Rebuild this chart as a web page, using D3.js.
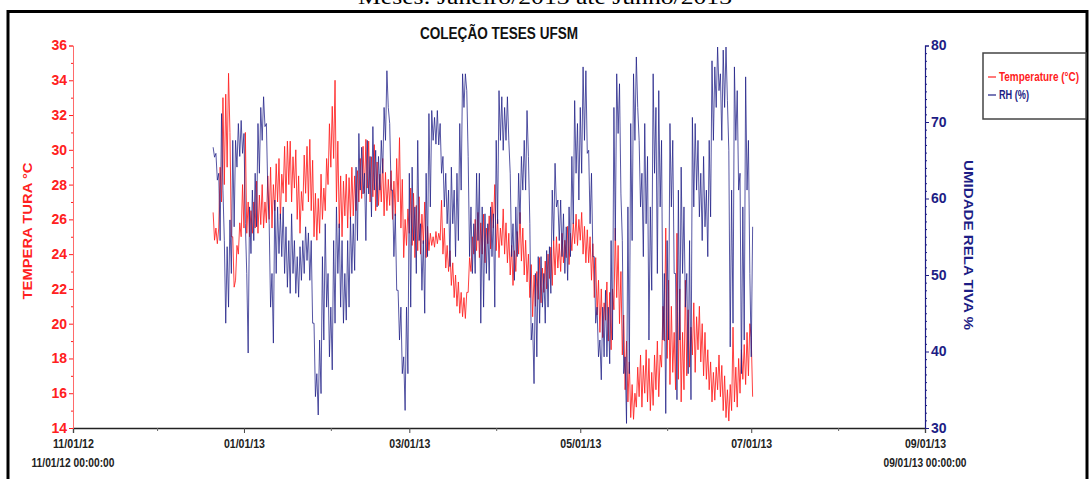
<!DOCTYPE html>
<html>
<head>
<meta charset="utf-8">
<script src="https://cdn.jsdelivr.net/npm/d3@7"></script>
<style>
  body { margin: 0; background: #fff; }
  svg { display: block; }
  .narrow { font-family: "Liberation Sans Narrow", "Arial Narrow", "Liberation Sans", Arial, sans-serif; font-weight: bold; }
</style>
</head>
<body>
<script>
// series: one sample every 12 hours starting at seriesStart
const seriesStart = Date.UTC(2012, 11, 21, 0);
const stepHours = 12;

const tempValues = [
  26.4, 24.8, 25.5, 24.6, 25.5, 29, 27, 33, 28, 33.2, 29, 34.4, 31, 25, 25, 22.1, 22.5, 24.5, 24, 25.8,
  25, 28, 25.5, 31, 25.2, 27, 25, 26.5, 25.2, 27, 25.5, 28.2, 25.2, 27.4, 25.7, 28, 25.5, 27, 25.8, 28.5,
  26, 29, 25.5, 28, 26.5, 29.2, 27, 29.5, 26, 28.6, 27.5, 30.2, 27, 30.5, 28, 30.5, 27, 29.6, 27.8, 30,
  26, 28.5, 25.2, 27.6, 26.5, 29.7, 27.5, 30.2, 27, 30.6, 26.5, 29.4, 25, 27.5, 24.8, 27.2, 25.2, 28.6, 26, 27.8,
  26.5, 29.5, 28, 31.5, 29, 32.5, 29.5, 34, 27, 30.5, 25.5, 28.5, 25, 28.2, 26.2, 28.6, 25.5, 28.4, 26, 29,
  26.2, 28.5, 26.5, 28.8, 27, 29.5, 27.2, 30.2, 27.5, 30.6, 27.8, 30.5, 27, 29.6, 27.3, 30.3, 26.5, 29.3, 26.8, 28.6,
  27, 29.5, 26.2, 28.7, 26.5, 28.3, 26.8, 28.8, 26, 28.2, 26.2, 29.5, 27, 30.7, 25.5, 28.3, 23.8, 26, 24.5, 26.6,
  25.2, 27.8, 24.5, 27.5, 23.8, 26.8, 24.2, 27.3, 24, 26.3, 24.6, 27, 23.8, 25.6, 24.2, 25.2, 24.5, 25, 24.4, 25.3,
  24.6, 25.2, 24.8, 27.1, 24, 25.5, 23.2, 24.5, 23, 24.2, 22.2, 23.5, 21.5, 22.8, 21, 22.4, 20.6, 21.8, 20.4, 21.5,
  20.3, 21.8, 21.8, 23.8, 23, 25, 24, 26, 24.2, 26.4, 23.8, 25.8, 24, 26.3, 23.5, 25.5, 24.6, 26.2, 24.3, 27,
  25.5, 28, 24.2, 26, 23.8, 25.5, 24.5, 26.6, 24, 25.8, 23.5, 25.2, 22.8, 24.5, 22.2, 24.2, 23, 25.3, 24, 26.4,
  23.6, 25.5, 22.8, 24.8, 22.4, 24, 21.5, 23.4, 20.4, 22.8, 21, 23, 21.4, 23.8, 21.2, 23.2, 21.8, 23.6, 22, 24,
  22.6, 24.4, 22.2, 24.8, 22.8, 25, 23.2, 24.6, 23, 25.2, 23.5, 24.8, 23.8, 25.6, 23.4, 25.2, 24.2, 25.8, 24.6, 26.3,
  24.5, 26, 24.8, 26.4, 24, 25.6, 23.5, 25.4, 23.5, 25, 22.5, 24.6, 21.5, 23.8, 20.5, 22.5, 19.5, 22, 19.2, 21.2,
  20.2, 22.4, 19, 21.8, 18.5, 22, 20.8, 25.5, 21.5, 24.5, 20, 23, 18.2, 20.5, 16.2, 19, 15.5, 17.8, 14.6, 16.5,
  14.5, 16, 15.2, 17.5, 15.8, 18.2, 15.2, 17.6, 16, 18.5, 15.5, 18, 15, 17.2, 15.3, 18.2, 16.2, 19, 15.8, 18.2,
  17.5, 21, 19, 25.5, 18, 22.5, 16.5, 21, 17.2, 19.5, 16.2, 25.2, 16.8, 22, 15.5, 19.5, 16.2, 22.5, 17, 20.8,
  17.5, 19.8, 18.2, 21.2, 17.2, 20.4, 18.5, 21, 17.8, 20, 17, 19.5, 16.8, 18.5, 16.2, 17.8, 15.5, 17.2, 15.6, 17.5,
  16.2, 18.2, 15.8, 17.6, 15, 17, 14.6, 16.2, 14.4, 16.5, 15, 19.8, 15.5, 17.5, 15.2, 18, 16, 18.5, 16.8, 18.8,
  16.5, 19.5, 17, 20, 19.2, 15.8
];

const rhValues = [
  66.7, 65.4, 65.9, 62.4, 63.3, 54.5, 71.1, 61.1, 54.5, 43.7, 53.7, 45.8, 57.2, 50.2, 67.6, 56.3, 67.6, 64.1, 69.8, 65.5,
  70.2, 65.9, 68.5, 56.7, 50.2, 39.8, 58.9, 52.8, 61.1, 54.5, 63.3, 56.3, 69.8, 63.3, 71.9, 67.6, 73.3, 69.4, 69.8, 61.1,
  56.7, 45.8, 50.2, 41.1, 59.8, 50.2, 58.9, 52.8, 58.0, 52.4, 58.9, 50.2, 56.3, 48.4, 54.5, 47.6, 58.0, 50.2, 54.5, 47.6,
  52.4, 47.1, 53.7, 49.3, 54.5, 50.2, 56.3, 51.9, 55.5, 49.3, 54.5, 43.7, 43.7, 34.1, 37.1, 31.7, 41.5, 34.5, 52.4, 41.5,
  56.7, 45.8, 50.2, 39.3, 45.8, 37.6, 54.5, 43.7, 58.9, 50.2, 56.7, 45.8, 54.5, 43.7, 50.2, 44.1, 54.5, 45.8, 57.6, 50.2,
  56.7, 50.6, 64.1, 54.5, 68.5, 61.1, 66.7, 60.6, 63.3, 54.5, 67.6, 60.6, 65.5, 57.6, 69.4, 61.1, 66.3, 58.9, 65.5, 61.1,
  67.6, 63.3, 71.9, 67.6, 76.7, 71.9, 69.8, 61.1, 61.1, 52.4, 58.0, 48.0, 48.0, 41.5, 45.8, 37.1, 39.3, 32.3, 45.8, 37.1,
  63.3, 45.8, 64.1, 54.5, 58.9, 50.2, 67.6, 54.5, 56.7, 48.0, 54.5, 45.0, 63.3, 52.4, 71.1, 58.9, 71.5, 67.6, 70.6, 67.1,
  71.5, 67.0, 69.8, 63.3, 65.5, 58.9, 63.3, 56.7, 61.1, 51.1, 64.1, 56.7, 61.1, 52.4, 63.3, 54.5, 69.8, 61.1, 76.3, 71.9,
  76.3, 74.1, 65.5, 52.4, 58.9, 50.2, 56.7, 50.2, 63.3, 54.5, 63.3, 43.7, 58.9, 45.8, 58.0, 50.2, 56.7, 49.3, 58.9, 52.4,
  58.0, 45.8, 67.6, 56.7, 74.1, 67.6, 73.3, 66.3, 71.9, 67.6, 73.3, 67.6, 63.3, 52.4, 56.7, 49.3, 58.9, 52.4, 63.3, 56.7,
  65.5, 61.1, 67.6, 61.1, 71.5, 65.5, 56.7, 41.5, 43.7, 35.8, 50.2, 39.3, 52.4, 43.7, 52.4, 45.8, 50.2, 43.7, 53.2, 45.8,
  53.7, 47.6, 61.1, 54.5, 64.6, 58.9, 59.8, 54.5, 59.8, 52.4, 58.0, 50.2, 56.3, 49.3, 58.9, 52.4, 65.5, 56.7, 72.8, 63.3,
  69.8, 59.8, 71.9, 63.3, 77.2, 67.6, 76.7, 65.9, 66.3, 56.7, 63.3, 52.4, 52.4, 43.7, 45.8, 39.3, 41.5, 36.3, 45.8, 39.3,
  48.0, 39.3, 45.8, 38.4, 54.5, 41.5, 71.9, 54.5, 76.3, 68.5, 75.0, 60.6, 54.5, 37.1, 39.3, 30.6, 58.9, 37.1, 69.8, 54.5,
  76.3, 67.6, 78.5, 71.9, 67.6, 58.9, 63.3, 52.4, 69.8, 56.7, 65.5, 41.5, 58.9, 48.0, 76.3, 63.3, 71.9, 50.2, 74.1, 58.9,
  67.6, 41.5, 50.2, 31.9, 54.5, 41.5, 69.8, 58.9, 67.6, 50.2, 50.2, 33.7, 61.1, 41.5, 64.1, 50.2, 58.9, 45.8, 50.2, 37.1,
  54.5, 33.7, 70.6, 58.9, 69.8, 61.1, 67.6, 57.6, 63.3, 54.5, 65.5, 56.3, 61.1, 52.4, 67.6, 57.6, 78.0, 67.6, 77.2, 71.9,
  79.8, 74.1, 76.3, 67.6, 79.4, 71.9, 79.8, 72.8, 66.3, 40.6, 61.1, 43.7, 77.2, 67.6, 74.1, 61.1, 63.3, 37.1, 58.9, 41.5,
  75.9, 61.1, 67.6, 50.2, 39.3, 56.3
];

const xDomain = [Date.UTC(2012, 10, 1), Date.UTC(2013, 8, 1)];
const tempTicks = d3.range(14, 37, 2);
const tempMinor = d3.range(15, 36, 2);
const rhTicks = d3.range(30, 81, 10);
const rhMinor = d3.range(31, 80, 1).filter(v => v % 10 !== 0);

const width = 1090, height = 479;
const plot = {left: 73, right: 925, top: 45.5, bottom: 428};

const red = '#ff2020';
const navy = '#1d1d85';

const svg = d3.select(document.body).append('svg')
  .attr('width', width)
  .attr('height', height);

svg.append('rect').attr('width', width).attr('height', height).attr('fill', '#fff');

// outer frame and top caption (caption is cut by the page edge, as in the source)
svg.append('rect')
  .attr('x', 8).attr('y', 11.5)
  .attr('width', 1079).attr('height', 500)
  .attr('fill', 'none').attr('stroke', '#000').attr('stroke-width', 3);

svg.append('text')
  .attr('x', 545).attr('y', 4)
  .attr('text-anchor', 'middle')
  .attr('font-family', '"Liberation Serif", "Times New Roman", serif')
  .attr('font-size', 22)
  .attr('textLength', 374).attr('lengthAdjust', 'spacingAndGlyphs')
  .text('Meses: Janeiro/2013 até Junho/2013');

svg.append('text')
  .attr('class', 'narrow')
  .attr('x', 499).attr('y', 39)
  .attr('text-anchor', 'middle')
  .attr('font-size', 16)
  .attr('fill', '#111')
  .attr('textLength', 158).attr('lengthAdjust', 'spacingAndGlyphs')
  .text('COLEÇÃO TESES UFSM');

const x = d3.scaleUtc().domain(xDomain).range([plot.left, plot.right]);
const yT = d3.scaleLinear().domain([14, 36]).range([plot.bottom, plot.top]);
const yH = d3.scaleLinear().domain([30, 80]).range([plot.bottom, plot.top]);

const dateAt = i => new Date(seriesStart + i * stepHours * 3600 * 1000);

// bottom axis
const months = d3.utcMonth.range(xDomain[0], d3.utcDay.offset(xDomain[1], 1));
const majorMonths = months.filter((d, i) => i % 2 === 0);
const minorMonths = months.filter((d, i) => i % 2 === 1);

const gx = svg.append('g')
  .attr('transform', `translate(0,${plot.bottom})`)
  .call(d3.axisBottom(x).tickValues(majorMonths).tickSize(5).tickPadding(6)
    .tickFormat(d3.utcFormat('%m/%d/%y')));
gx.select('.domain').attr('stroke', '#222').attr('stroke-width', 1.3);
gx.selectAll('.tick line').attr('stroke', '#444');
gx.selectAll('.tick text')
  .attr('class', 'narrow').attr('font-size', 13).attr('fill', '#222')
  .attr('textLength', 41).attr('lengthAdjust', 'spacingAndGlyphs');

const gxMinor = svg.append('g')
  .attr('transform', `translate(0,${plot.bottom})`)
  .call(d3.axisBottom(x).tickValues(minorMonths).tickSize(3).tickFormat(''));
gxMinor.select('.domain').remove();
gxMinor.selectAll('.tick line').attr('stroke', '#666');

// full date stamps under first and last tick
[xDomain[0], xDomain[1]].forEach(d => {
  svg.append('text')
    .attr('class', 'narrow')
    .attr('x', x(d)).attr('y', 467)
    .attr('text-anchor', 'middle')
    .attr('font-size', 13).attr('fill', '#222')
    .attr('textLength', 83).attr('lengthAdjust', 'spacingAndGlyphs')
    .text(d3.utcFormat('%m/%d/%y %H:%M:%S')(new Date(d)));
});

// left axis (temperature)
const gl = svg.append('g')
  .attr('transform', `translate(${plot.left},0)`)
  .call(d3.axisLeft(yT).tickValues(tempTicks).tickSize(4).tickPadding(2));
gl.select('.domain').attr('stroke', '#ff6a6a');
gl.selectAll('.tick line').attr('stroke', red);
gl.selectAll('.tick text').attr('class', 'narrow').attr('font-size', 14).attr('fill', red);

const glMinor = svg.append('g')
  .attr('transform', `translate(${plot.left},0)`)
  .call(d3.axisLeft(yT).tickValues(tempMinor).tickSize(2).tickFormat(''));
glMinor.select('.domain').remove();
glMinor.selectAll('.tick line').attr('stroke', red);

// right axis (RH)
const gr = svg.append('g')
  .attr('transform', `translate(${plot.right},0)`)
  .call(d3.axisRight(yH).tickValues(rhTicks).tickSize(4).tickPadding(2));
gr.select('.domain').attr('stroke', navy).attr('stroke-width', 1.2);
gr.selectAll('.tick line').attr('stroke', navy);
gr.selectAll('.tick text').attr('class', 'narrow').attr('font-size', 14).attr('fill', navy);

const grMinor = svg.append('g')
  .attr('transform', `translate(${plot.right},0)`)
  .call(d3.axisRight(yH).tickValues(rhMinor).tickSize(2).tickFormat(''));
grMinor.select('.domain').remove();
grMinor.selectAll('.tick line').attr('stroke', navy);

// axis titles
svg.append('text')
  .attr('class', 'narrow')
  .attr('transform', 'translate(32,231) rotate(-90)')
  .attr('text-anchor', 'middle')
  .attr('font-size', 13).attr('fill', red)
  .attr('textLength', 137).attr('lengthAdjust', 'spacingAndGlyphs')
  .text('TEMPERA TURA °C');

svg.append('text')
  .attr('class', 'narrow')
  .attr('transform', 'translate(964,245) rotate(90)')
  .attr('text-anchor', 'middle')
  .attr('font-size', 13).attr('fill', navy)
  .attr('textLength', 170).attr('lengthAdjust', 'spacingAndGlyphs')
  .text('UMIDADE RELA TIVA %');

// series
const lineT = d3.line().x((d, i) => x(dateAt(i))).y(d => yT(d));
const lineH = d3.line().x((d, i) => x(dateAt(i))).y(d => yH(d));

svg.append('path')
  .datum(tempValues)
  .attr('d', lineT)
  .attr('fill', 'none')
  .attr('stroke', red)
  .attr('stroke-opacity', 0.85)
  .attr('stroke-width', 1);

svg.append('path')
  .datum(rhValues)
  .attr('d', lineH)
  .attr('fill', 'none')
  .attr('stroke', navy)
  .attr('stroke-opacity', 0.75)
  .attr('stroke-width', 1);

// legend
const legend = svg.append('g');
legend.append('rect')
  .attr('x', 983).attr('y', 53)
  .attr('width', 103).attr('height', 66)
  .attr('fill', '#fff').attr('stroke', '#444').attr('stroke-width', 1.5);

const legendItems = [
  {label: 'Temperature (°C)', color: red, y: 77, len: 80},
  {label: 'RH (%)', color: navy, y: 95, len: 30}
];
legendItems.forEach(it => {
  legend.append('line')
    .attr('x1', 988).attr('x2', 996)
    .attr('y1', it.y).attr('y2', it.y)
    .attr('stroke', it.color).attr('stroke-width', 1.2);
  legend.append('text')
    .attr('class', 'narrow')
    .attr('x', 999).attr('y', it.y + 4)
    .attr('font-size', 12).attr('fill', it.color)
    .attr('textLength', it.len).attr('lengthAdjust', 'spacingAndGlyphs')
    .text(it.label);
});
</script>
</body>
</html>
